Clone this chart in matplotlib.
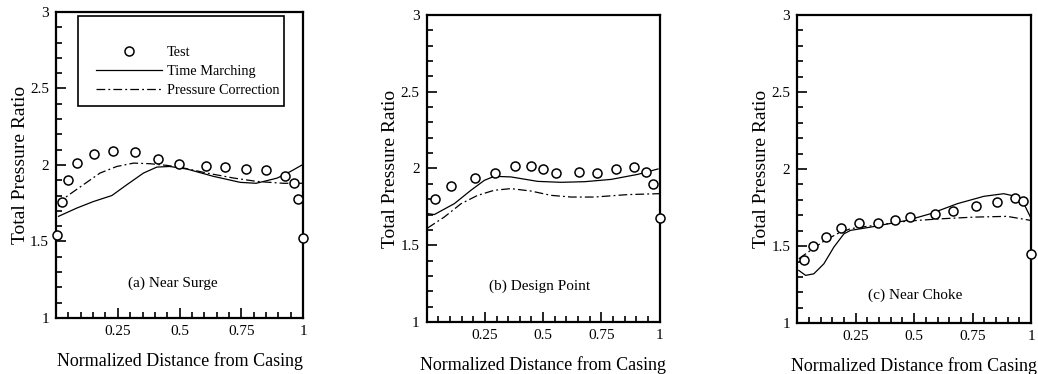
import matplotlib
matplotlib.use('Agg')
import matplotlib.pyplot as plt
from matplotlib.ticker import MultipleLocator, FixedLocator
from matplotlib.lines import Line2D
from matplotlib.patches import Rectangle

plt.rcParams['font.family'] = ['Liberation Serif', 'DejaVu Serif']

# (a) near surge
a_test_x = [0.005, 0.026, 0.05, 0.086, 0.154, 0.23, 0.32, 0.414, 0.499, 0.607,
            0.682, 0.768, 0.851, 0.928, 0.962, 0.98, 1.0]
a_test_y = [1.54, 1.757, 1.903, 2.012, 2.069, 2.09, 2.084, 2.042, 2.008, 1.99,
            1.984, 1.973, 1.964, 1.929, 1.88, 1.78, 1.52]
a_tm_x = [0.01, 0.084, 0.15, 0.226, 0.286, 0.354, 0.408, 0.46, 0.53, 0.638,
          0.746, 0.81, 0.895, 0.95, 0.996]
a_tm_y = [1.664, 1.718, 1.76, 1.80, 1.87, 1.947, 1.986, 1.99, 1.973, 1.925,
          1.886, 1.88, 1.914, 1.958, 2.0]
a_pc_x = [0.01, 0.043, 0.11, 0.178, 0.246, 0.314, 0.38, 0.449, 0.516, 0.61,
          0.72, 0.814, 0.92, 0.996]
a_pc_y = [1.73, 1.794, 1.87, 1.947, 1.99, 2.012, 2.008, 1.997, 1.98, 1.947,
          1.914, 1.892, 1.88, 1.88]

# (b) design point
b_test_x = [0.036, 0.105, 0.208, 0.294, 0.378, 0.446, 0.499, 0.557, 0.653,
            0.731, 0.814, 0.89, 0.943, 0.97, 1.0]
b_test_y = [1.803, 1.888, 1.938, 1.971, 2.014, 2.018, 1.999, 1.973, 1.975,
            1.973, 1.997, 2.012, 1.979, 1.901, 1.68]
b_tm_x = [0.004, 0.033, 0.119, 0.19, 0.248, 0.29, 0.362, 0.477, 0.577, 0.678,
          0.792, 0.907, 0.993]
b_tm_y = [1.706, 1.70, 1.771, 1.858, 1.923, 1.949, 1.945, 1.916, 1.91, 1.914,
          1.929, 1.962, 1.997]
b_pc_x = [0.004, 0.076, 0.148, 0.219, 0.29, 0.362, 0.448, 0.534, 0.62, 0.72,
          0.864, 1.0]
b_pc_y = [1.612, 1.684, 1.771, 1.825, 1.858, 1.869, 1.853, 1.825, 1.814, 1.814,
          1.83, 1.836]

# (c) near choke
c_test_x = [0.03, 0.067, 0.125, 0.189, 0.266, 0.346, 0.42, 0.484, 0.591, 0.665,
            0.766, 0.855, 0.933, 0.964, 1.0]
c_test_y = [1.411, 1.498, 1.558, 1.617, 1.649, 1.649, 1.667, 1.688, 1.71, 1.725,
            1.762, 1.788, 1.814, 1.792, 1.446]
c_tm_x = [0.007, 0.036, 0.071, 0.114, 0.157, 0.2, 0.228, 0.313, 0.47, 0.57,
          0.684, 0.798, 0.883, 0.933, 0.969, 0.997]
c_tm_y = [1.342, 1.31, 1.32, 1.385, 1.494, 1.58, 1.602, 1.623, 1.667, 1.71,
          1.775, 1.823, 1.84, 1.823, 1.775, 1.688]
c_pc_x = [0.007, 0.057, 0.114, 0.171, 0.228, 0.328, 0.47, 0.613, 0.755, 0.897,
          0.997]
c_pc_y = [1.418, 1.472, 1.532, 1.58, 1.613, 1.634, 1.662, 1.677, 1.688, 1.693,
          1.667]

panels = [
    ('(a) Near Surge', a_test_x, a_test_y, a_tm_x, a_tm_y, a_pc_x, a_pc_y),
    ('(b) Design Point', b_test_x, b_test_y, b_tm_x, b_tm_y, b_pc_x, b_pc_y),
    ('(c) Near Choke', c_test_x, c_test_y, c_tm_x, c_tm_y, c_pc_x, c_pc_y),
]
x_ticks = [0.25, 0.5, 0.75, 1]
x_ticklabels = ['0.25', '0.5', '0.75', '1']
y_ticks = [1, 1.5, 2, 2.5, 3]
y_ticklabels = ['1', '1.5', '2', '2.5', '3']

boxes = [[0.054, 0.150, 0.238, 0.818],
         [0.411, 0.139, 0.2245, 0.821],
         [0.768, 0.136, 0.2254, 0.824]]
label_pos = [(0.474, 0.114), (0.485, 0.117), (0.504, 0.091)]
pc_dash = (7, 2.5, 1.5, 2.5)

fig = plt.figure(figsize=(10.38, 3.74), dpi=100)
for i, (name, tx, ty, mx, my, px, py) in enumerate(panels):
    ax = fig.add_axes(boxes[i])
    ax.plot(mx, my, color='black', lw=0.9)
    ax.plot(px, py, color='black', lw=0.9, dashes=pc_dash)
    ax.plot(tx, ty, 'o', ms=6.5, mfc='white', mec='black', mew=1.1,
            clip_on=False, zorder=5)
    ax.set_xlim(0, 1)
    ax.set_ylim(1, 3)
    ax.xaxis.set_major_locator(FixedLocator(x_ticks))
    ax.set_xticklabels(x_ticklabels)
    ax.xaxis.set_minor_locator(MultipleLocator(0.05))
    ax.yaxis.set_major_locator(FixedLocator(y_ticks))
    ax.set_yticklabels(y_ticklabels)
    ax.yaxis.set_minor_locator(MultipleLocator(0.1))
    ax.tick_params(which='both', direction='in', top=False, right=False,
                   labelsize=11, width=1.2, pad=5)
    ax.tick_params(which='major', length=7)
    ax.tick_params(which='minor', length=4.5)
    for s in ax.spines.values():
        s.set_linewidth(1.6)
    ax.set_xlabel('Normalized Distance from Casing', fontsize=13, labelpad=10)
    ax.set_ylabel('Total Pressure Ratio', fontsize=14, labelpad=1)
    ax.text(label_pos[i][0], label_pos[i][1], name, transform=ax.transAxes,
            ha='center', va='center', fontsize=11)
    if i == 0:
        # legend frame drawn separately so the padding matches the original
        ax.add_patch(Rectangle((0.089, 0.693), 0.834, 0.294,
                               transform=ax.transAxes, fill=False,
                               edgecolor='black', lw=1.2, zorder=6))
        handles = [
            Line2D([], [], ls='none', marker='o', ms=6.5, mfc='white',
                   mec='black', mew=1.1),
            Line2D([], [], color='black', lw=0.9),
            Line2D([], [], color='black', lw=0.9, dashes=pc_dash),
        ]
        ax.legend(handles, ['Test', 'Time Marching', 'Pressure Correction'],
                  loc='upper left', bbox_to_anchor=(0.162, 0.890),
                  fontsize=10.3, frameon=False, handlelength=4.6,
                  borderpad=0, labelspacing=0.44, handletextpad=0.35,
                  borderaxespad=0)

fig.savefig('out.png', dpi=100)
